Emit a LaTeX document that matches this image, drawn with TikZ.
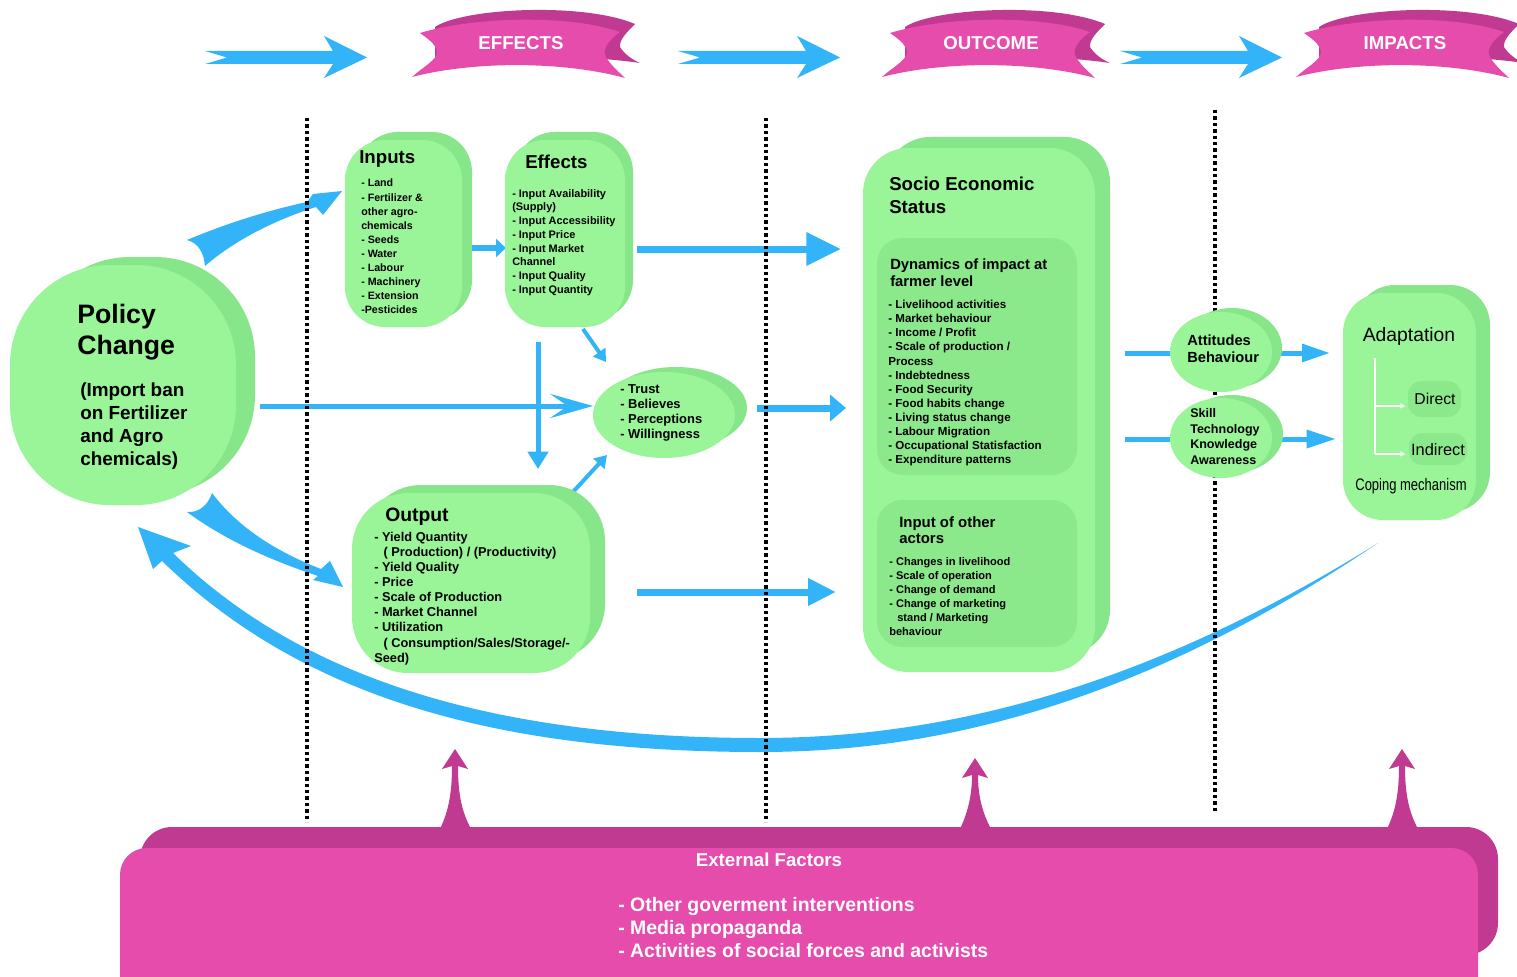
\documentclass[tikz,border=0pt]{standalone}
\usepackage{fontspec}
\usepackage{graphicx}
\setmainfont{Liberation Sans}
\usetikzlibrary{arrows.meta,shapes.geometric,fit}
\definecolor{gfront}{HTML}{9AF598}
\definecolor{gback}{HTML}{86E689}
\definecolor{ginner}{HTML}{8BE98B}
\definecolor{ablue}{HTML}{33B4F9}
\definecolor{pfront}{HTML}{E54CAC}
\definecolor{pback}{HTML}{C13A92}
\newcommand\fs[2]{\fontsize{#1}{#2}\selectfont}
\newcommand\topArrow[1]{\fill[ablue, shift={(#1,0)}] (0,51) -- (128,51) -- (119,36) -- (162,57.5) -- (119,78) -- (128,64) -- (0,64) -- (22,57.5) -- cycle;}
\newcommand\ribbon[3]{%
\begin{scope}[shift={(#1,0)}]
\fill[pback] (22,27) .. controls (50,8) and (170,2) .. (222,24) .. controls (214,32) and (206,40) .. (207,47) .. controls (212,55) and (220,60) .. (227,63) .. controls (180,56) and (60,50) .. (22,60) -- cycle;
\fill[pfront] (7,33) .. controls (60,17) and (155,14) .. (207,32) .. controls (196,40) and (190,48) .. (192,55) .. controls (196,64) and (206,72) .. (212,78) .. controls (150,61) and (60,61) .. (-1,77) .. controls (10,67) and (24,60) .. (24,52) .. controls (23,44) and (14,38) .. (7,33) -- cycle;
\node[bantext] (#3) at (108,43) {#2};
\end{scope}}
\newcommand\magArrow[2]{\fill[pback, shift={(#1,0)}] (-15,829) .. controls (-7,812) and (-3,795) .. (-3,#2+17) -- (-13,#2+20) -- (0,#2) -- (13,#2+20) -- (3,#2+17) .. controls (3,795) and (7,812) .. (16,829) -- cycle;}
\begin{document}
\begin{tikzpicture}[x=0.75pt,y=-0.75pt,
  gf/.style={fill=gfront, inner sep=0pt, draw=none},
  gb/.style={fill=gback, inner sep=0pt, draw=none},
  gi/.style={fill=ginner, inner sep=0pt, draw=none},
  txt/.style={inner sep=0pt, anchor=north west, align=left, text=black},
  bantext/.style={inner sep=0pt, text=white, font=\fs{14}{16}\bfseries},
  dotline/.style={draw=black, line width=2.3pt, dash pattern=on 2.6pt off 2.2pt},
  conn/.style={draw=ablue, line width=3.75pt},
  wide/.style={draw=ablue, line width=5.25pt},
  wline/.style={draw=white, line width=1.2pt}]
\useasboundingbox (0,0) rectangle (1517,977);
\clip (0,0) rectangle (1517,977);
\fill[white] (0,0) rectangle (1517,977);

% top arrows and ribbons
\topArrow{205}
\topArrow{678}
\topArrow{1120}
\ribbon{413}{EFFECTS}{effB}
\ribbon{883}{OUTCOME}{outB}
\ribbon{1297}{IMPACTS}{impB}

% external factors
\magArrow{455}{749}
\magArrow{975}{758}
\magArrow{1402}{749}
\node[fill=pback, inner sep=0pt, rounded corners=24pt, fit={(140,827)(1498,955)}] (extB) {};
\node[fill=pfront, inner sep=0pt, rounded corners=20pt, fit={(120,848)(1478,1010)}] (ext) {};
\node[inner sep=0pt, text=white, font=\fs{14}{16}\bfseries] (extT) at (769,860) {External Factors};
\node[txt, text=white, font=\fs{14.6}{17.25}\bfseries] (extL) at (618,897) {- Other goverment interventions\\- Media propaganda\\- Activities of social forces and activists};

% feedback arrow
\fill[ablue] (138,527) -- (191,546) -- (173,553) .. controls (300,677) and (490,738) .. (760,738) .. controls (950,738) and (1150,685) .. (1378,543) .. controls (1150,697) and (950,752) .. (760,752) .. controls (480,752) and (295,690) .. (162,561) -- (153,569) -- cycle;

% horn arrows from policy change
\fill[ablue] (187,240) .. controls (230,222) and (270,210) .. (307,202) -- (313,194) -- (342,191) -- (323,215) -- (316,207) .. controls (275,220) and (235,240) .. (205,266) .. controls (204,254) and (199,243) .. (187,240) -- cycle;
\fill[ablue] (212,493) .. controls (240,530) and (280,553) .. (321,569) -- (330,561) -- (343,587) -- (313,580) -- (318,576) .. controls (270,560) and (225,540) .. (187,512) .. controls (199,513) and (208,505) .. (212,493) -- cycle;

% connector end points
\coordinate (a1s) at (472,248); \coordinate (a1e) at (506,248);
\coordinate (a2s) at (637,249); \coordinate (a2e) at (841,249);
\coordinate (a3s) at (260,406); \coordinate (a3e) at (593,406);
\coordinate (a4s) at (538,342); \coordinate (a4e) at (538,469);
\coordinate (a5s) at (583,329); \coordinate (a5e) at (606,362);
\coordinate (a6s) at (572,493); \coordinate (a6e) at (607,455);
\coordinate (a7s) at (757,408); \coordinate (a7e) at (846,408);
\coordinate (a8s) at (637,592); \coordinate (a8e) at (836,592);
\coordinate (a9s) at (1125,353); \coordinate (a9e) at (1180,353);
\coordinate (a10s) at (1278,353); \coordinate (a10e) at (1330,353);
\coordinate (a11s) at (1125,439); \coordinate (a11e) at (1180,439);
\coordinate (a12s) at (1280,439); \coordinate (a12e) at (1336,439);

\draw[conn, line width=4.5pt, -{Triangle[length=7.5pt,width=13.5pt]}] (a1s) -- (a1e);
\draw[wide, -{Triangle[length=26pt,width=24pt]}] (a2s) -- (a2e);
\draw[conn, -{Stealth[length=32pt,width=18pt,inset=13pt]}] (a3s) -- (a3e);
\draw[conn, -{Triangle[length=13pt,width=15pt]}] (a4s) -- (a4e);
\draw[conn, line width=3pt, -{Triangle[length=9pt,width=11pt]}] (a5s) -- (a5e);
\draw[conn, line width=3pt, -{Triangle[length=9pt,width=11pt]}] (a6s) -- (a6e);
\draw[wide, -{Triangle[length=12pt,width=19.5pt]}] (a7s) -- (a7e);
\draw[wide, -{Triangle[length=21pt,width=19.5pt]}] (a8s) -- (a8e);
\draw[conn] (a9s) -- (a9e);
\draw[conn, -{Triangle[length=21pt,width=13pt]}] (a10s) -- (a10e);
\draw[conn] (a11s) -- (a11e);
\draw[conn, -{Triangle[length=22pt,width=13pt]}] (a12s) -- (a12e);

% dotted separators
\coordinate (d1t) at (307,118); \coordinate (d1b) at (307,822);
\coordinate (d2t) at (766,118); \coordinate (d2b) at (766,822);
\coordinate (d3t) at (1215,110); \coordinate (d3b) at (1215,813);
\draw[dotline] (d1t) -- (d1b);
\draw[dotline] (d2t) -- (d2b);
\draw[dotline] (d3t) -- (d3b);

% policy change
\node[gb, rounded corners=75pt, fit={(30,257)(255,495)}] (polB) {};
\node[gf, rounded corners=75pt, fit={(10,265)(236,505)}] (pol) {};
\node[txt, font=\fs{20}{23.3}\bfseries] (polT) at (77,304) {Policy\\Change};
\node[txt, font=\fs{14.2}{17.25}\bfseries] (polS) at (80,383) {(Import ban\\on Fertilizer\\and Agro\\chemicals)};

% inputs
\node[gb, rounded corners=30pt, fit={(358,132)(472,320)}] (inB) {};
\node[gf, rounded corners=30pt, fit={(345,140)(462,327)}] (in) {};
\node[txt, font=\fs{14}{16}\bfseries] (inT) at (359,150) {Inputs};
\node[txt, font=\fs{8}{10.55}\bfseries] (inL) at (361,179) {- Land\\- Fertilizer \&\\other agro-\\chemicals\\- Seeds\\- Water\\- Labour\\- Machinery\\- Extension\\-Pesticides};

% effects
\node[gb, rounded corners=30pt, fit={(515,132)(633,320)}] (efB) {};
\node[gf, rounded corners=30pt, fit={(505,140)(625,327)}] (ef) {};
\node[txt, font=\fs{14}{16}\bfseries] (efT) at (525,155) {Effects};
\node[txt, font=\fs{8.2}{10.3}\bfseries] (efL) at (512,189) {- Input Availability\\(Supply)\\- Input Accessibility\\- Input Price\\- Input Market\\Channel\\- Input Quality\\- Input Quantity};

% trust
\node[ellipse, gb, minimum width=106.5pt, minimum height=61.5pt] (trB) at (676,408) {};
\node[ellipse, gf, minimum width=106.5pt, minimum height=64.5pt] (tr) at (664,415) {};
\node[txt, font=\fs{9.7}{11.4}\bfseries] (trL) at (620,384) {- Trust\\- Believes\\- Perceptions\\- Willingness};

% output
\node[gb, rounded corners=42pt, fit={(365,485)(605,660)}] (opB) {};
\node[gf, rounded corners=42pt, fit={(352,493)(590,673)}] (op) {};
\node[txt, font=\fs{14.5}{16}\bfseries] (opT) at (385,508) {Output};
\node[txt, font=\fs{9.6}{11.3}\bfseries] (opL) at (374,532) {- Yield Quantity\\\hspace*{7pt}( Production) / (Productivity)\\- Yield Quality\\- Price\\- Scale of Production\\- Market Channel\\- Utilization\\\hspace*{7pt}( Consumption/Sales/Storage/-\\Seed)};

% socio economic status
\node[gb, rounded corners=34pt, fit={(885,137)(1110,655)}] (sesB) {};
\node[gf, rounded corners=34pt, fit={(863,148)(1095,672)}] (ses) {};
\node[txt, font=\fs{14}{17}\bfseries] (sesT) at (889,177) {Socio Economic\\Status};
\node[gi, rounded corners=19pt, fit={(877,238)(1077,475)}] (dyn) {};
\node[txt, font=\fs{11.1}{13}\bfseries] (dynT) at (890,258.5) {Dynamics of impact at\\farmer level};
\node[txt, font=\fs{8.7}{10.57}\bfseries] (dynL) at (888,300) {- Livelihood activities\\- Market behaviour\\- Income / Profit\\- Scale of production /\\Process\\- Indebtedness\\- Food Security\\- Food habits change\\- Living status change\\- Labour Migration\\- Occupational Statisfaction\\- Expenditure patterns};
\node[gi, rounded corners=19pt, fit={(877,500)(1077,647)}] (oth) {};
\node[txt, font=\fs{11.2}{12.5}\bfseries] (othT) at (899,516) {Input of other\\actors};
\node[txt, font=\fs{8.3}{10.57}\bfseries] (othL) at (889,557) {- Changes in livelihood\\- Scale of operation\\- Change of demand\\- Change of marketing\\\hspace*{6pt}stand / Marketing\\behaviour};

% attitudes / skill
\node[ellipse, gb, minimum width=75pt, minimum height=60pt] (attB) at (1232,348) {};
\node[ellipse, gf, minimum width=76.5pt, minimum height=60pt] (att) at (1221,352) {};
\node[txt, font=\fs{11}{12.5}\bfseries] (attT) at (1187,335) {Attitudes\\Behaviour};
\node[ellipse, gb, minimum width=76.5pt, minimum height=58.5pt] (skB) at (1232,434) {};
\node[ellipse, gf, minimum width=76.5pt, minimum height=60pt] (sk) at (1221,438) {};
\node[txt, font=\fs{9.4}{11.6}\bfseries] (skT) at (1190,408.6) {Skill\\Technology\\Knowledge\\Awareness};

% adaptation
\node[gb, rounded corners=30pt, fit={(1355,285)(1490,512)}] (adB) {};
\node[gf, rounded corners=30pt, fit={(1343,293)(1476,520)}] (ad) {};
\node[inner sep=0pt, anchor=base, font=\fs{14.5}{16}] (adT) at (1409,341.7) {Adaptation};
\node[gi, rounded corners=10pt, fit={(1408,381)(1461,417)}] (dir) {};
\node[inner sep=0pt, font=\fs{11.8}{14}] (dirT) at (1435,399) {Direct};
\node[gi, rounded corners=10pt, fit={(1409,433)(1467,465)}] (ind) {};
\node[inner sep=0pt, font=\fs{12.3}{14}] (indT) at (1438,450) {Indirect};
\coordinate (br1) at (1375,358); \coordinate (br2) at (1375,454);
\coordinate (br3) at (1405,406); \coordinate (br4) at (1405,454);
\draw[wline] (br1) -- (br2);
\draw[wline, -{Stealth[length=4pt,width=4pt]}] (br1 |- br3) -- (br3);
\draw[wline, -{Stealth[length=4pt,width=4pt]}] (br2) -- (br4);
\node[inner sep=0pt, anchor=base] (cope) at (1411,490.7) {\scalebox{0.78}[1]{\fs{12.5}{14}Coping mechanism}};
\end{tikzpicture}
\end{document}
